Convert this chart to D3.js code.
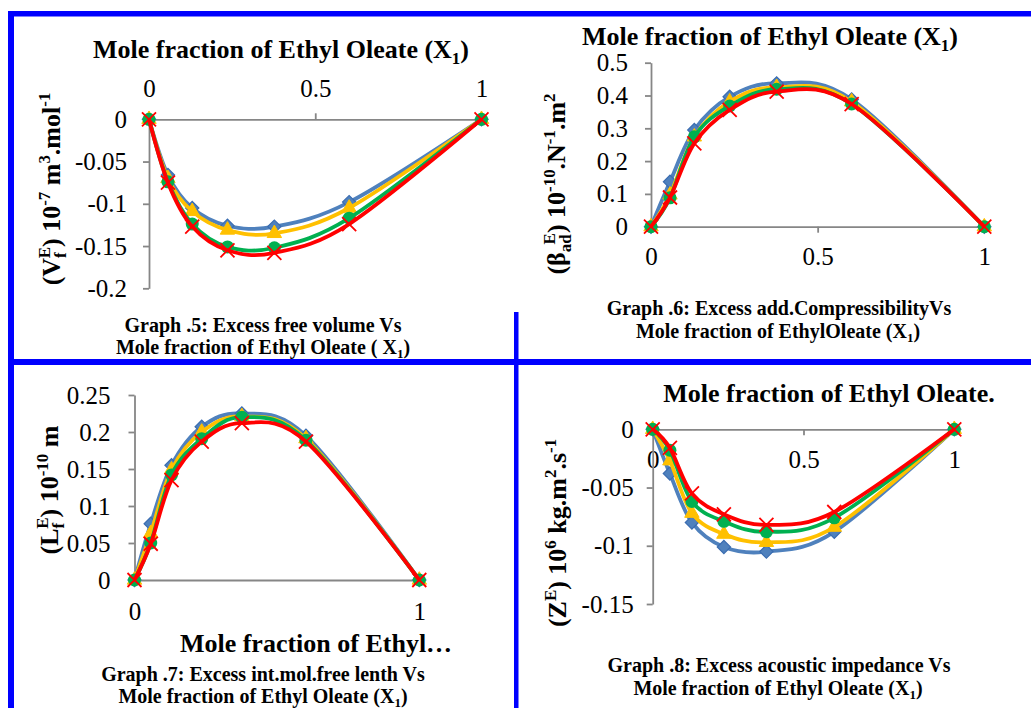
<!DOCTYPE html>
<html>
<head>
<meta charset="utf-8">
<script src="https://cdn.jsdelivr.net/npm/d3@7"></script>
<style>
  body { margin: 0; background: #fff; }
  svg { display: block; font-family: "Liberation Serif", "Times New Roman", serif; }
</style>
</head>
<body>
<svg id="chart" width="1031" height="708"></svg>
<script>
// mole fraction of ethyl oleate (same for every graph)
var molFrac = [0, 0.057, 0.13, 0.236, 0.377, 0.602, 1];

// graph 5 : excess free volume
var vfBlue   = [0, -0.066, -0.105, -0.126, -0.127, -0.098, 0];
var vfYellow = [0, -0.070, -0.109, -0.131, -0.135, -0.105, 0];
var vfGreen  = [0, -0.074, -0.124, -0.151, -0.152, -0.117, 0];
var vfRed    = [0, -0.075, -0.127, -0.155, -0.158, -0.124, 0];
var vfTicksY = [0, -0.05, -0.1, -0.15, -0.2];
var vfTicksX = [0, 0.5, 1];

// graph 6 : excess adiabatic compressibility
var bBlue   = [0, 0.137, 0.295, 0.396, 0.437, 0.388, 0];
var bYellow = [0, 0.097, 0.274, 0.381, 0.425, 0.381, 0];
var bGreen  = [0, 0.088, 0.274, 0.368, 0.419, 0.374, 0];
var bRed    = [0, 0.089, 0.254, 0.356, 0.412, 0.374, 0];
var bTicksY = [0, 0.1, 0.2, 0.3, 0.4, 0.5];
var bTicksX = [0, 0.5, 1];

// graph 7 : excess intermolecular free length
var lBlue   = [0, 0.076, 0.155, 0.207, 0.225, 0.195, 0];
var lYellow = [0, 0.063, 0.149, 0.200, 0.221, 0.191, 0];
var lGreen  = [0, 0.050, 0.142, 0.191, 0.220, 0.189, 0];
var lRed    = [0, 0.049, 0.135, 0.187, 0.212, 0.187, 0];
var lTicksY = [0, 0.05, 0.1, 0.15, 0.2, 0.25];
var lTicksX = [0, 1];

// graph 8 : excess acoustic impedance
var zBlue   = [0, -0.038, -0.080, -0.101, -0.105, -0.088, 0];
var zYellow = [0, -0.027, -0.072, -0.090, -0.097, -0.084, 0];
var zGreen  = [0, -0.018, -0.062, -0.079, -0.088, -0.076, 0];
var zRed    = [0, -0.016, -0.055, -0.073, -0.082, -0.071, 0];
var zTicksY = [0, -0.05, -0.1, -0.15];
var zTicksX = [0, 0.5, 1];

var colors = ["#4f81bd", "#ffc000", "#00b050", "#ff0000"];
var markerStroke = ["#3a6cb0", "#ffc000", "#00b050", "#ff0000"];
var shapes = ["diamond", "triangle", "circle", "x"];

var svg = d3.select("#chart");

//blue frame lines
var frame = [
  {x: 8, y: 11, w: 1023, h: 5.5},
  {x: 8, y: 11, w: 6, h: 697},
  {x: 8, y: 359, w: 1023, h: 6},
  {x: 514, y: 312, w: 4.5, h: 396}
];
svg.selectAll("rect.frame").data(frame).enter().append("rect")
  .attr("class", "frame")
  .attr("x", d => d.x).attr("y", d => d.y)
  .attr("width", d => d.w).attr("height", d => d.h)
  .attr("fill", "#0000ff");

// writes text with sub / superscripts ; parts = [[text, mode, dx]]
function richText(sel, parts, size) {
  var shift = 0;
  parts.forEach(function(p) {
    var mode = p[1] || "";
    var target = mode == "sup" ? -0.38 * size : mode == "sub" ? 0.22 * size : 0;
    var t = sel.append("tspan").text(p[0])
      .attr("dy", target - shift)
      .attr("font-size", mode ? size * 0.65 : size);
    if (p[2]) t.attr("dx", p[2]);
    shift = target;
  });
}

function addText(x, y, parts, size, weight, rotate) {
  var t = svg.append("text")
    .attr("transform", "translate(" + x + "," + y + ")" + (rotate ? " rotate(-90)" : ""))
    .attr("text-anchor", "middle")
    .attr("font-weight", weight)
    .attr("font-size", size)
    .attr("fill", "#000");
  richText(t, parts, size);
  return t;
}

function drawGraph(g) {
  var x = d3.scaleLinear().domain([0, 1]).range(g.xRange);
  var y = d3.scaleLinear().domain(g.yDomain).range(g.yRange);
  var zeroY = y(0);

  var xAxis = (g.xTop ? d3.axisTop(x) : d3.axisBottom(x))
    .tickValues(g.ticksX).tickFormat(String)
    .tickSize(6).tickSizeOuter(0).tickPadding(g.xPad);
  var yAxis = d3.axisLeft(y).tickValues(g.ticksY).tickFormat(String)
    .tickSize(6).tickSizeOuter(0).tickPadding(g.yPad);

  var ax = svg.append("g").attr("transform", "translate(0," + zeroY + ")").call(xAxis);
  var ay = svg.append("g").attr("transform", "translate(" + g.xRange[0] + ",0)").call(yAxis);
  [ax, ay].forEach(function(a) {
    a.selectAll("path, line").attr("stroke", "#868686").attr("stroke-width", 1.8);
    a.selectAll("text").attr("font-size", 25).attr("fill", "#000")
      .attr("font-family", "Liberation Serif, Times New Roman, serif");
  });
  if (g.ticksX.indexOf(0) >= 0) ax.selectAll(".tick line").filter(d => d == 0).remove();

  var line = d3.line()
    .x(function(d, i) { return x(molFrac[i]); })
    .y(function(d) { return y(d); })
    .curve(d3.curveCatmullRom.alpha(0));

  g.series.forEach(function(vals, k) {
    svg.append("path")
      .datum(vals)
      .attr("d", line)
      .attr("fill", "none")
      .attr("stroke", colors[k])
      .attr("stroke-width", 3.8)
      .attr("stroke-linejoin", "round");

    var pts = svg.append("g").selectAll("g").data(vals).enter().append("g")
      .attr("transform", function(d, i) { return "translate(" + x(molFrac[i]) + "," + y(d) + ")"; });

    if (shapes[k] == "diamond") {
      pts.append("path").attr("d", d3.symbol(d3.symbolSquare, 88)())
        .attr("transform", "rotate(45)")
        .attr("fill", colors[k]).attr("stroke", markerStroke[k]).attr("stroke-width", 1.2);
    } else if (shapes[k] == "triangle") {
      pts.append("path").attr("d", d3.symbol(d3.symbolTriangle, 90)())
        .attr("fill", colors[k]).attr("stroke", markerStroke[k]);
    } else if (shapes[k] == "circle") {
      pts.append("circle").attr("r", 6.5).attr("fill", colors[k]);
    } else {
      pts.append("path").attr("d", "M-7,-7L7,7M-7,7L7,-7")
        .attr("stroke", colors[k]).attr("stroke-width", 1.8).attr("fill", "none");
    }
  });

  g.texts.forEach(function(t) {
    addText(t.x, t.y, t.parts, t.size, "bold", t.rotate);
  });
}

// graph 5
drawGraph({
  xRange: [149, 481.5], yDomain: [-0.2, 0], yRange: [288.3, 119.3],
  xTop: true, ticksX: vfTicksX, ticksY: vfTicksY, xPad: 16, yPad: 16,
  series: [vfBlue, vfYellow, vfGreen, vfRed],
  texts: [
    {x: 281, y: 58, size: 26, parts: [["Mole fraction of Ethyl Oleate (X"], ["1", "sub"], [")"]]},
    {x: 60, y: 189, size: 26, rotate: true,
     parts: [["(V"], ["f", "sub"], ["E", "sup", -6], [") 10"], ["-7", "sup"], [" m"], ["3", "sup"], [".mol"], ["-1", "sup"]]},
    {x: 263, y: 332, size: 20, parts: [["Graph .5: Excess free volume Vs"]]},
    {x: 263, y: 354, size: 20, parts: [["Mole fraction of Ethyl Oleate ( X"], ["1", "sub"], [")"]]}
  ]
});

// graph 6
drawGraph({
  xRange: [651, 984.3], yDomain: [0, 0.5], yRange: [226.7, 62.7],
  xTop: false, ticksX: bTicksX, ticksY: bTicksY, xPad: 14.5, yPad: 17,
  series: [bBlue, bYellow, bGreen, bRed],
  texts: [
    {x: 770, y: 45, size: 26, parts: [["Mole fraction of Ethyl Oleate (X"], ["1", "sub"], [")"]]},
    {x: 565, y: 184, size: 26, rotate: true,
     parts: [["(β"], ["ad", "sub"], ["E", "sup", -10], [") 10"], ["-10", "sup"], [".N"], ["-1", "sup"], [".m"], ["2", "sup"]]},
    {x: 779, y: 315, size: 20, parts: [["Graph .6: Excess add.CompressibilityVs"]]},
    {x: 778, y: 338, size: 20, parts: [["Mole fraction of EthylOleate (X"], ["1", "sub"], [")"]]}
  ]
});

// graph 7
drawGraph({
  xRange: [134.5, 419.3], yDomain: [0, 0.25], yRange: [580, 395],
  xTop: false, ticksX: lTicksX, ticksY: lTicksY, xPad: 16, yPad: 18,
  series: [lBlue, lYellow, lGreen, lRed],
  texts: [
    {x: 316, y: 652, size: 26, parts: [["Mole fraction of Ethyl…"]]},
    {x: 58, y: 490, size: 26, rotate: true,
     parts: [["(L"], ["f", "sub"], ["E", "sup", -6], [") 10"], ["-10", "sup"], [" m"]]},
    {x: 263, y: 681, size: 20, parts: [["Graph .7: Excess int.mol.free lenth Vs"]]},
    {x: 263, y: 703, size: 20, parts: [["Mole fraction of Ethyl Oleate (X"], ["1", "sub"], [")"]]}
  ]
});

// graph 8
drawGraph({
  xRange: [652.7, 954.3], yDomain: [-0.15, 0], yRange: [604, 429.3],
  xTop: false, ticksX: zTicksX, ticksY: zTicksY, xPad: 15, yPad: 13,
  series: [zBlue, zYellow, zGreen, zRed],
  texts: [
    {x: 829, y: 402, size: 26, parts: [["Mole fraction of Ethyl Oleate."]]},
    {x: 566, y: 533, size: 26, rotate: true,
     parts: [["(Z"], ["E", "sup"], [") 10"], ["6", "sup"], [" kg.m"], ["2", "sup"], [".s"], ["-1", "sup"]]},
    {x: 779, y: 672, size: 20, parts: [["Graph .8: Excess acoustic impedance Vs"]]},
    {x: 778, y: 695, size: 20, parts: [["Mole fraction of Ethyl Oleate (X"], ["1", "sub"], [")"]]}
  ]
});
</script>
</body>
</html>
